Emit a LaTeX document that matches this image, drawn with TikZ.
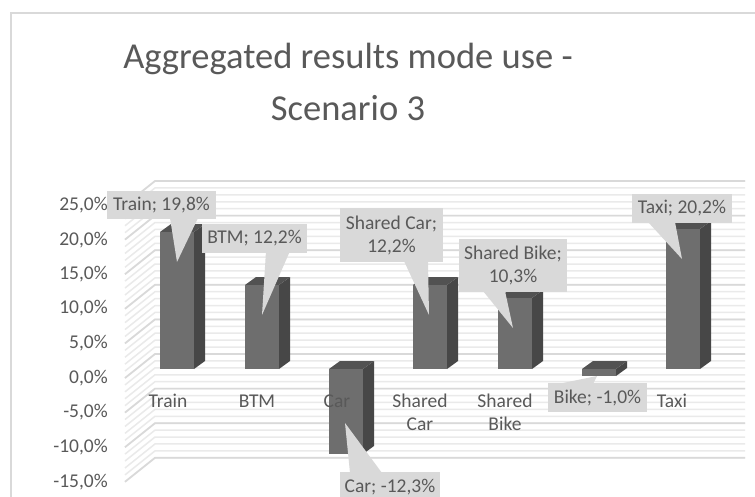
\documentclass[tikz,border=0pt]{standalone}
\usepackage{fontspec}
\setmainfont{Carlito}
\usetikzlibrary{calc}
\definecolor{txt}{HTML}{595959}
\definecolor{lbl}{HTML}{D9D9D9}
\definecolor{framec}{HTML}{D9D9D9}
\definecolor{gmaj}{HTML}{D9D9D9}
\definecolor{gmin}{HTML}{EAEAEA}
\definecolor{bfront}{HTML}{6E6E6E}
\definecolor{bside}{HTML}{474747}
\definecolor{btop}{HTML}{525252}
\newcommand\colbar[3]{%
  \fill[bside] (#1+34,#2) -- (#1+45,#2-8) -- (#1+45,#3-8) -- (#1+34,#3) -- cycle;
  \fill[btop] (#1,#2) -- (#1+11,#2-8) -- (#1+45,#2-8) -- (#1+34,#2) -- cycle;
  \fill[bfront] (#1,#2) rectangle (#1+34,#3);
}
\tikzset{
  lab/.style={font=\fontsize{19.5}{23}\selectfont, text=txt, inner sep=0pt},
  tick/.style={lab, anchor=east},
  cat/.style={lab, align=center},
  dlab/.style={lab, fill=lbl, align=center},
  tail/.style={fill=lbl},
  titletext/.style={font=\fontsize{36.5}{44}\selectfont, text=txt, inner sep=0pt, anchor=base},
}
\begin{document}
\begin{tikzpicture}[x=1pt, y=-1pt]
\useasboundingbox (0,0) rectangle (755,496);
\clip (0,0) rectangle (755,496);
\fill[white] (0,0) rectangle (755,496);
% frame
\draw[framec, line width=2pt] (11,497) -- (11,13) -- (756,13);
% title
\node[titletext] (title1) at (348,68) {Aggregated results mode use -};
\node[titletext] (title2) at (348,120) {Scenario 3};
% gridlines (minor then major)
\foreach \v in {-15,...,25}{
  \draw[gmin, line width=1.5pt] (125,{181+(25-\v)*6.92+24}) -- (155,{181+(25-\v)*6.92}) -- (745,{181+(25-\v)*6.92});
}
\foreach \v in {-15,-10,...,25}{
  \draw[gmaj, line width=1.7pt] (125,{181+(25-\v)*6.92+24}) -- (155,{181+(25-\v)*6.92}) -- (745,{181+(25-\v)*6.92});
}
% axis labels
\node[tick] (t25) at (108,205) {25,0\%};
\node[tick] (t20) at (108,240) {20,0\%};
\node[tick] (t15) at (108,274) {15,0\%};
\node[tick] (t10) at (108,308) {10,0\%};
\node[tick] (t5) at (108,343) {5,0\%};
\node[tick] (t0) at (108,378) {0,0\%};
\node[tick] (tm5) at (108,412) {-5,0\%};
\node[tick] (tm10) at (108,447) {-10,0\%};
\node[tick] (tm15) at (108,482) {-15,0\%};
% bars
\colbar{160}{232}{369}
\colbar{245}{285}{369}
\colbar{329}{369}{454}
\colbar{413}{285}{369}
\colbar{498}{298}{369}
\colbar{582}{369}{376}
\colbar{666}{229}{369}
% category labels
\node[cat] (cTrain) at (168,401) {Train};
\node[cat] (cBTM) at (257,401) {BTM};
\node[cat] (cCar) at (337,401) {Car};
\node[cat] (cSCar) at (420,412) {Shared\\Car};
\node[cat] (cSBike) at (505,412) {Shared\\Bike};
\node[cat] (cTaxi) at (672,401) {Taxi};
% data label tails
\coordinate (pTrain) at (177,262);
\coordinate (pBTM) at (262,315);
\coordinate (pCar) at (345,423);
\coordinate (pSCar) at (429,315);
\coordinate (pSBike) at (513,328);
\coordinate (pBike) at (597,376);
\coordinate (pTaxi) at (682,259);
\fill[tail] (170,218) -- (pTrain) -- (198,218) -- cycle;
\fill[tail] (266,251) -- (pBTM) -- (290,251) -- cycle;
\fill[tail] (404,261) -- (pSCar) -- (428,261) -- cycle;
\fill[tail] (483,291) -- (pSBike) -- (505,291) -- cycle;
\fill[tail] (648,222) -- (pTaxi) -- (675,222) -- cycle;
\fill[tail] (350,473) -- (pCar) -- (382,473) -- cycle;
\fill[tail] (558,384) -- (pBike) -- (593,384) -- cycle;
% data labels
\node[dlab, minimum width=109pt, minimum height=28pt] (dTrain) at (161.5,205) {Train; 19,8\%};
\node[dlab, minimum width=105pt, minimum height=29pt] (dBTM) at (254.5,238) {BTM; 12,2\%};
\node[dlab, minimum width=103pt, minimum height=54pt] (dSCar) at (391.5,235) {Shared Car;\\12,2\%};
\node[dlab, minimum width=108pt, minimum height=53pt] (dSBike) at (513,265.5) {Shared Bike;\\10,3\%};
\node[dlab, minimum width=99pt, minimum height=29pt] (dBike) at (597.5,397.5) {Bike; -1,0\%};
\node[dlab, minimum width=100pt, minimum height=29pt] (dTaxi) at (682,208.5) {Taxi; 20,2\%};
\node[dlab, minimum width=100pt, minimum height=30pt] (dCar) at (390,487) {Car; -12,3\%};
\end{tikzpicture}
\end{document}
